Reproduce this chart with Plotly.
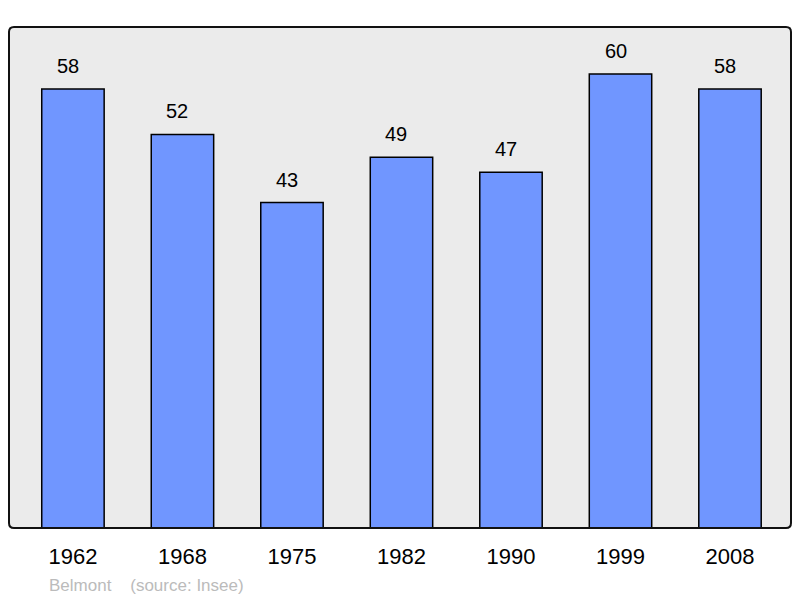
import plotly.graph_objects as go

years = ["1962", "1968", "1975", "1982", "1990", "1999", "2008"]
population = [58, 52, 43, 49, 47, 60, 58]
footnote = "Belmont    (source: Insee)"

W, H = 800, 598
L, R, T, B = 9, 9, 27, 70
xpos = list(range(len(years)))
FONT = "Liberation Sans, Arial, sans-serif"

fig = go.Figure()
fig.add_trace(go.Bar(
    x=xpos, y=population, width=0.57,
    marker=dict(color="#7096ff", line=dict(color="#000000", width=1.5)),
    hoverinfo="skip",
))
for x, v in zip(xpos, population):
    fig.add_annotation(x=x, y=v, text=str(v), showarrow=False, yanchor="bottom",
                       yshift=10, xshift=-5, font=dict(family=FONT, size=20, color="#000"))

fig.add_annotation(xref="paper", yref="paper", x=(47 - L) / (W - L - R), y=-(585 - 528) / (H - T - B),
                   xanchor="left", yanchor="middle", text=footnote, showarrow=False,
                   font=dict(family=FONT, size=17, color="#bbbbbb"))

# rounded border
pw, ph = W - L - R, H - T - B
r = 5
rx, ry = r / pw, r / ph
path = (f"M {rx},0 L {1-rx},0 Q 1,0 1,{ry} L 1,{1-ry} Q 1,1 {1-rx},1 "
        f"L {rx},1 Q 0,1 0,{1-ry} L 0,{ry} Q 0,0 {rx},0 Z")
fig.add_shape(type="path", xref="paper", yref="paper", path=path,
              line=dict(color="#111", width=2), layer="above")

fig.update_layout(
    width=W, height=H,
    margin=dict(l=L, r=R, t=T, b=B, autoexpand=False),
    paper_bgcolor="white", plot_bgcolor="#ebebeb",
    showlegend=False,
    font=dict(family=FONT, color="#000"),
    xaxis=dict(range=[-0.584, 6.557], tickvals=xpos, ticktext=years, showgrid=False,
               zeroline=False, ticks="outside", ticklen=9, tickcolor="rgba(0,0,0,0)",
               tickfont=dict(size=22, color="#000")),
    yaxis=dict(range=[0, 66.2], showgrid=False, zeroline=False, showticklabels=False),
)
fig.write_html("out.html", config={"displayModeBar": False, "staticPlot": True},
               post_script="document.body.style.margin='0';document.body.style.overflow='hidden';")
